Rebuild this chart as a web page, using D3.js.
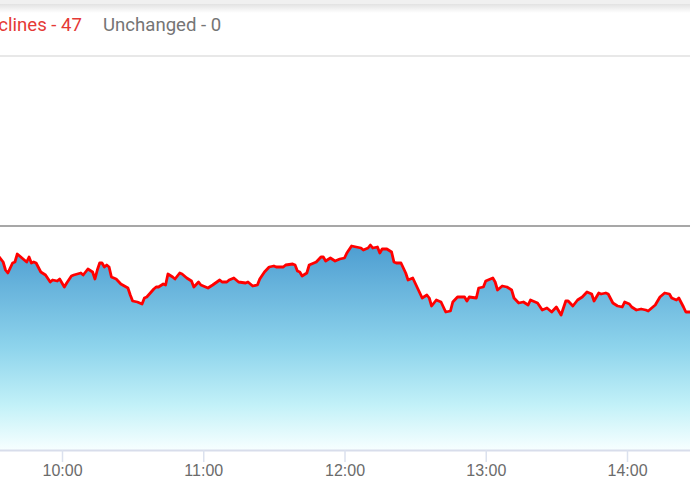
<!DOCTYPE html>
<html>
<head>
<meta charset="utf-8">
<script src="https://cdn.jsdelivr.net/npm/d3@7"></script>
<style>
  html, body { margin: 0; padding: 0; background: #fff; overflow: hidden; }
  svg { display: block; }
</style>
</head>
<body>
<svg id="chart" width="690" height="500"></svg>
<script>
// ---- data ----
const legendLabels = ["Declines - 47", "Unchanged - 0"];
const tickLabels = ["10:00", "11:00", "12:00", "13:00", "14:00"];
const prevClose = 224;
const times = [
  "09:33","09:35","09:36","09:37","09:39","09:40","09:41","09:43","09:44","09:45",
  "09:46","09:47","09:48","09:49","09:51","09:53","09:55","09:56","09:58","09:59",
  "10:01","10:02","10:04","10:05","10:08","10:09","10:11","10:13","10:14","10:15",
  "10:16","10:17","10:18","10:19","10:20","10:21","10:23","10:25","10:28","10:29",
  "10:30","10:32","10:34","10:35","10:36","10:39","10:40","10:41","10:43","10:44",
  "10:45","10:47","10:48","10:50","10:51","10:53","10:55","10:56","10:58","10:59",
  "11:02","11:04","11:07","11:08","11:10","11:11","11:13","11:15","11:18","11:19",
  "11:21","11:23","11:24","11:26","11:28","11:30","11:31","11:34","11:35","11:38",
  "11:39","11:40","11:41","11:42","11:44","11:45","11:47","11:48","11:50","11:51",
  "11:52","11:54","11:56","11:58","12:00","12:01","12:03","12:05","12:07","12:08",
  "12:10","12:11","12:12","12:14","12:15","12:16","12:18","12:20","12:21","12:22",
  "12:24","12:26","12:27","12:29","12:31","12:33","12:35","12:36","12:37","12:39",
  "12:41","12:43","12:45","12:46","12:48","12:49","12:51","12:52","12:53","12:56",
  "12:57","12:59","13:00","13:01","13:03","13:04","13:05","13:07","13:09","13:11",
  "13:12","13:14","13:16","13:18","13:19","13:22","13:24","13:26","13:28","13:30",
  "13:32","13:34","13:35","13:37","13:39","13:41","13:43","13:45","13:46","13:48",
  "13:49","13:51","13:52","13:54","13:56","13:58","13:59","14:01","14:02","14:04",
  "14:06","14:08","14:09","14:10","14:12","14:14","14:16","14:18","14:19","14:21",
  "14:22","14:24","14:25","14:27"
];
const values = [
  194,188,180,177,187,188,196,192,190,188,
  193,187,188,187,178,175,168,170,169,171,
  163,167,174,175,177,175,181,178,171,180,
  187,187,183,185,183,173,171,166,162,155,
  149,148,146,152,153,161,163,163,166,165,
  176,173,171,177,176,172,169,163,168,165,
  162,165,170,168,168,170,172,168,167,168,
  164,165,171,178,183,184,183,183,185,186,
  185,179,178,174,177,185,187,188,193,193,
  189,192,189,191,192,197,204,203,202,200,
  202,205,202,203,197,201,201,198,188,187,
  187,177,170,172,162,152,155,152,144,150,
  148,138,139,148,153,153,153,149,153,152,
  162,163,169,170,172,168,160,164,163,160,
  152,147,148,145,150,147,140,142,138,143,
  135,149,149,144,150,153,158,156,149,157,
  156,157,156,147,144,143,148,146,143,140,
  141,140,139,141,145,153,157,156,152,150,
  152,143,138,138
];

// ---- setup ----
const W = 690, H = 500;
const svg = d3.select("#chart");
const parse = d3.timeParse("%H:%M");
const data = times.map((t, i) => ({ t: parse(t), v: values[i] }));

const x = d3.scaleTime()
  .domain([parse("10:00"), parse("14:00")])
  .range([62, 627]);
const y = d3.scaleLinear().domain([0, 395]).range([450, 55]);

const defs = svg.append("defs");
const grad = defs.append("linearGradient")
  .attr("id", "areaGrad")
  .attr("gradientUnits", "userSpaceOnUse")
  .attr("x1", 0).attr("x2", 0)
  .attr("y1", y(d3.max(values))).attr("y2", y(0));
grad.append("stop").attr("offset", 0).attr("stop-color", "#4d9dd1");
grad.append("stop").attr("offset", 0.5).attr("stop-color", "#8ed4ec");
grad.append("stop").attr("offset", 0.78).attr("stop-color", "#c2f1f8");
grad.append("stop").attr("offset", 1).attr("stop-color", "#f7ffff");

const shadow = defs.append("linearGradient")
  .attr("id", "shadowGrad").attr("x1", 0).attr("x2", 0).attr("y1", 0).attr("y2", 1);
shadow.append("stop").attr("offset", 0).attr("stop-color", "#e2e2e2");
shadow.append("stop").attr("offset", 1).attr("stop-color", "#ffffff");

// top band + shadow
svg.append("rect").attr("x", 0).attr("y", 0).attr("width", W).attr("height", 4).attr("fill", "#f0f0f0");
svg.append("rect").attr("x", 0).attr("y", 4).attr("width", W).attr("height", 9).attr("fill", "url(#shadowGrad)");

// legend
const legend = svg.append("g").attr("font-family", "Roboto, 'Noto Sans', sans-serif").attr("font-size", 18.6);
legend.append("text").attr("x", 82).attr("y", 31).attr("text-anchor", "end")
  .attr("fill", "#e53935").text(legendLabels[0]);
legend.append("text").attr("x", 103).attr("y", 31)
  .attr("fill", "#757575").text(legendLabels[1]);

// legend bottom border
svg.append("line").attr("x1", 0).attr("x2", W).attr("y1", 56).attr("y2", 56)
  .attr("stroke", "#e8e8e8").attr("stroke-width", 2);

// area
const area = d3.area().x(d => x(d.t)).y0(y(0)).y1(d => y(d.v)).curve(d3.curveLinear);
svg.append("path").datum(data).attr("d", area).attr("fill", "url(#areaGrad)");

// previous close line
svg.append("line").attr("x1", 0).attr("x2", W)
  .attr("y1", y(prevClose)).attr("y2", y(prevClose))
  .attr("stroke", "#8a8a8a").attr("stroke-width", 1.5);

// line
const line = d3.line().x(d => x(d.t)).y(d => y(d.v)).curve(d3.curveLinear);
svg.append("path").datum(data).attr("d", line)
  .attr("fill", "none").attr("stroke", "#ff0000").attr("stroke-width", 2.8)
  .attr("stroke-linejoin", "round").attr("stroke-linecap", "round");

// x axis
const axis = d3.axisBottom(x)
  .tickValues(tickLabels.map(parse))
  .tickFormat(d3.timeFormat("%H:%M"))
  .tickSize(12).tickPadding(3).tickSizeOuter(0);
const gx = svg.append("g").attr("transform", `translate(0,${y(0)})`).call(axis);
gx.select(".domain").remove();
gx.insert("line", ":first-child").attr("x1", 0).attr("x2", W).attr("y1", 0.5).attr("y2", 0.5)
  .attr("stroke", "#d8ddeb").attr("stroke-width", 2);
gx.selectAll(".tick line").attr("stroke", "#dbe1ee").attr("stroke-width", 1.5);
gx.selectAll(".tick text")
  .attr("font-family", "'Liberation Sans', Arial, sans-serif")
  .attr("font-size", 16).attr("fill", "#6b6b6b");
</script>
</body>
</html>
